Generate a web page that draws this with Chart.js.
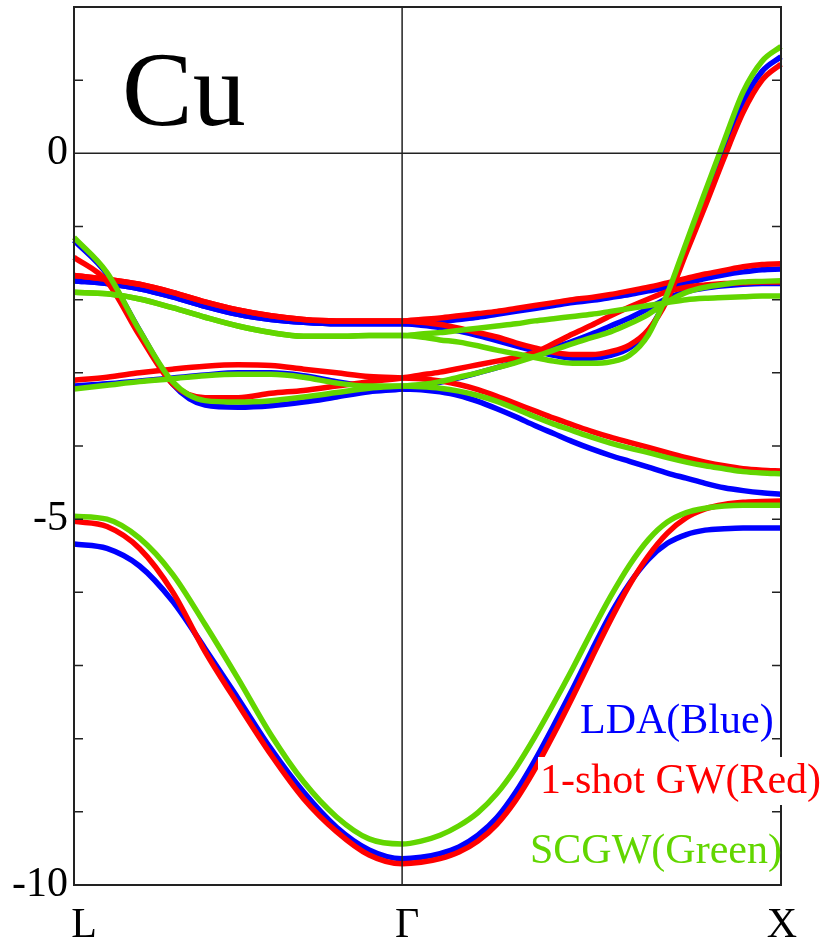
<!DOCTYPE html>
<html lang="en">
<head>
  <meta charset="UTF-8" />
  <title>Cu band structure</title>
  <script src="https://cdn.jsdelivr.net/npm/chart.js"></script>
  <style>
    html, body { margin: 0; padding: 0; background: #fff; }
    canvas { display: block; }
  </style>
</head>
<body>
  <canvas id="bands" width="827" height="944"></canvas>

  <script>
    // k along L -> Γ -> X  (|LΓ| = √3/2, |ΓX| = 1, units of 2π/a)
    const kPath = [
      0, 0.087, 0.173, 0.260, 0.346, 0.433, 0.520, 0.606, 0.693, 0.779, 0.866,
      0.916, 0.966, 1.016, 1.066, 1.116, 1.166, 1.216, 1.266, 1.316, 1.366,
      1.416, 1.466, 1.516, 1.566, 1.616, 1.666, 1.716, 1.766, 1.816, 1.866
    ];
    const symPoints = [0, 0.866, 1.866];
    const symLabels = ["L", "Γ", "X"];
    const energyTicks = [0, -5, -10];

    // LDA bands (eV, E_F = 0)
    const lda1 = [-5.34, -5.40, -5.64, -6.12, -6.77, -7.45, -8.14, -8.73, -9.21, -9.52, -9.64,
      -9.62, -9.57, -9.48, -9.32, -9.08, -8.73, -8.30, -7.82, -7.32, -6.80, -6.30, -5.88, -5.55, -5.33, -5.21, -5.15, -5.13, -5.12, -5.12, -5.12];
    const lda2 = [-3.18, -3.15, -3.11, -3.07, -3.03, -3.00, -3.00, -3.04, -3.12, -3.19, -3.22,
      -3.23, -3.26, -3.31, -3.39, -3.49, -3.60, -3.72, -3.83, -3.94, -4.04, -4.13, -4.21, -4.29, -4.37, -4.44, -4.51, -4.57, -4.61, -4.64, -4.66];
    const lda3 = [-1.19, -1.65, -2.42, -3.15, -3.44, -3.47, -3.45, -3.40, -3.33, -3.26, -3.22,
      -3.18, -3.13, -3.07, -3.00, -2.93, -2.85, -2.76, -2.66, -2.57, -2.47, -2.36, -2.25, -2.12, -1.98, -1.89, -1.84, -1.81, -1.79, -1.78, -1.78];
    const lda4 = [-1.74, -1.78, -1.85, -1.96, -2.09, -2.20, -2.27, -2.31, -2.33, -2.33, -2.33,
      -2.32, -2.30, -2.27, -2.24, -2.20, -2.16, -2.12, -2.08, -2.04, -2.01, -1.97, -1.93, -1.88, -1.83, -1.77, -1.71, -1.66, -1.62, -1.59, -1.58];
    const lda5 = [-1.74, -1.78, -1.85, -1.96, -2.09, -2.20, -2.27, -2.31, -2.33, -2.33, -2.33,
      -2.35, -2.38, -2.43, -2.49, -2.56, -2.63, -2.70, -2.76, -2.80, -2.80, -2.76, -2.66, -2.43, -1.95, -1.28, -0.62, 0.05, 0.70, 1.12, 1.32];

    // one-shot GW bands
    const gw1 = [-5.03, -5.10, -5.40, -5.99, -6.81, -7.53, -8.22, -8.82, -9.27, -9.59, -9.71,
      -9.69, -9.64, -9.55, -9.40, -9.17, -8.84, -8.42, -7.94, -7.43, -6.90, -6.38, -5.90, -5.50, -5.19, -4.98, -4.86, -4.80, -4.77, -4.76, -4.75];
    const gw2 = [-3.10, -3.06, -3.00, -2.95, -2.91, -2.89, -2.90, -2.95, -3.00, -3.05, -3.07,
      -3.08, -3.11, -3.16, -3.23, -3.32, -3.42, -3.52, -3.62, -3.71, -3.80, -3.88, -3.95, -4.02, -4.09, -4.16, -4.22, -4.27, -4.31, -4.33, -4.34];
    const gw3 = [-1.42, -1.75, -2.49, -3.15, -3.34, -3.34, -3.28, -3.24, -3.18, -3.12, -3.07,
      -3.03, -2.99, -2.94, -2.89, -2.84, -2.79, -2.72, -2.60, -2.47, -2.35, -2.22, -2.10, -1.99, -1.89, -1.83, -1.80, -1.78, -1.77, -1.76, -1.76];
    const gw4 = [-1.67, -1.72, -1.79, -1.90, -2.03, -2.14, -2.22, -2.27, -2.29, -2.29, -2.29,
      -2.27, -2.25, -2.22, -2.19, -2.16, -2.12, -2.08, -2.04, -2.00, -1.97, -1.93, -1.88, -1.83, -1.77, -1.71, -1.65, -1.60, -1.55, -1.52, -1.51];
    const gw5 = [-1.67, -1.72, -1.79, -1.90, -2.03, -2.14, -2.22, -2.27, -2.29, -2.29, -2.29,
      -2.31, -2.34, -2.39, -2.45, -2.51, -2.59, -2.66, -2.72, -2.75, -2.75, -2.71, -2.62, -2.41, -2.00, -1.36, -0.72, -0.06, 0.56, 1.00, 1.22];

    // self-consistent GW bands
    const scgw1 = [-4.96, -5.00, -5.26, -5.75, -6.44, -7.18, -7.95, -8.59, -9.07, -9.37, -9.44,
      -9.40, -9.32, -9.19, -9.01, -8.75, -8.40, -7.98, -7.52, -7.04, -6.54, -6.06, -5.63, -5.28, -5.04, -4.91, -4.85, -4.82, -4.81, -4.81, -4.81];
    const scgw2 = [-3.22, -3.17, -3.12, -3.08, -3.04, -3.02, -3.02, -3.06, -3.14, -3.18, -3.18,
      -3.19, -3.21, -3.25, -3.31, -3.39, -3.49, -3.60, -3.70, -3.79, -3.88, -3.96, -4.03, -4.09, -4.16, -4.22, -4.27, -4.31, -4.35, -4.37, -4.38];
    const scgw3 = [-1.15, -1.63, -2.42, -3.12, -3.38, -3.40, -3.38, -3.33, -3.27, -3.21, -3.18,
      -3.16, -3.12, -3.06, -3.00, -2.93, -2.86, -2.78, -2.69, -2.60, -2.52, -2.44, -2.33, -2.20, -2.03, -1.90, -1.83, -1.79, -1.76, -1.75, -1.74];
    const scgw4 = [-1.90, -1.92, -1.99, -2.11, -2.24, -2.36, -2.45, -2.50, -2.50, -2.49, -2.49,
      -2.47, -2.45, -2.42, -2.39, -2.36, -2.33, -2.29, -2.26, -2.23, -2.20, -2.16, -2.12, -2.08, -2.04, -2.00, -1.98, -1.97, -1.96, -1.95, -1.95];
    const scgw5 = [-1.90, -1.92, -1.99, -2.11, -2.24, -2.36, -2.45, -2.50, -2.50, -2.49, -2.49,
      -2.51, -2.55, -2.58, -2.63, -2.69, -2.74, -2.79, -2.84, -2.87, -2.87, -2.85, -2.76, -2.48, -1.92, -1.22, -0.52, 0.17, 0.84, 1.26, 1.46];

    const BLUE = "#0000ff";
    const RED = "#ff0000";
    const GREEN = "#62d600";
    const serif = '"Liberation Serif", "Times New Roman", serif';

    // first dataset ends up on top, so green goes first, blue last
    const methods = [
      { bands: [scgw1, scgw2, scgw3, scgw4, scgw5], color: GREEN },
      { bands: [gw1, gw2, gw3, gw4, gw5], color: RED },
      { bands: [lda1, lda2, lda3, lda4, lda5], color: BLUE }
    ];

    const datasets = [];
    methods.forEach(m => {
      m.bands.forEach(band => {
        datasets.push({
          data: band.map((e, i) => ({ x: kPath[i], y: e })),
          borderColor: m.color,
          backgroundColor: m.color,
          clip: 4
        });
      });
    });

    // frame, Fermi level, Γ line, inner ticks and axis labels
    const framePlugin = {
      id: "frame",
      afterDatasetsDraw(chart) {
        const { ctx, chartArea: a, scales: { x, y } } = chart;
        ctx.save();
        ctx.strokeStyle = "#222";
        ctx.lineWidth = 1.5;

        const y0 = y.getPixelForValue(0);
        ctx.beginPath();
        ctx.moveTo(a.left, y0); ctx.lineTo(a.right, y0);
        const xg = x.getPixelForValue(symPoints[1]);
        ctx.moveTo(xg, a.top); ctx.lineTo(xg, a.bottom);
        for (let e = -9; e <= 1; e++) {
          if (e === 0) continue;
          const py = y.getPixelForValue(e);
          ctx.moveTo(a.left, py); ctx.lineTo(a.left + 9, py);
          ctx.moveTo(a.right - 9, py); ctx.lineTo(a.right, py);
        }
        ctx.stroke();

        ctx.lineWidth = 2;
        ctx.strokeRect(a.left, a.top, a.right - a.left, a.bottom - a.top);

        ctx.fillStyle = "#000";
        ctx.font = "42px " + serif;
        ctx.textAlign = "right";
        ctx.textBaseline = "middle";
        energyTicks.forEach(v => ctx.fillText(String(v), a.left - 6, y.getPixelForValue(v)));

        ctx.textAlign = "center";
        ctx.textBaseline = "alphabetic";
        const nudge = [10, 5, 1];
        symPoints.forEach((k, i) => ctx.fillText(symLabels[i], x.getPixelForValue(k) + nudge[i], 937));
        ctx.restore();
      },
      afterDraw(chart) {
        const { ctx } = chart;
        ctx.save();
        ctx.textAlign = "left";
        ctx.textBaseline = "alphabetic";
        ctx.fillStyle = "#000";
        ctx.font = "106px " + serif;
        ctx.fillText("Cu", 122, 125);

        ctx.font = "42px " + serif;
        ctx.fillStyle = BLUE;
        ctx.fillText("LDA(Blue)", 580, 733);

        ctx.fillStyle = "#fff";
        ctx.fillRect(538, 757, 284, 48);
        ctx.fillStyle = RED;
        ctx.fillText("1-shot GW(Red)", 540, 793);

        ctx.fillStyle = GREEN;
        ctx.fillText("SCGW(Green)", 530, 863);
        ctx.restore();
      }
    };

    new Chart(document.getElementById("bands"), {
      type: "line",
      data: { datasets },
      options: {
        responsive: false,
        animation: false,
        devicePixelRatio: 1,
        layout: { padding: { left: 74, top: 7, right: 46, bottom: 59 } },
        plugins: { legend: { display: false }, tooltip: { enabled: false } },
        elements: {
          point: { radius: 0, hoverRadius: 0 },
          line: { borderWidth: 5.5, cubicInterpolationMode: "monotone" }
        },
        scales: {
          x: { type: "linear", min: 0, max: 1.866, display: false },
          y: { type: "linear", min: -10, max: 2, display: false }
        }
      },
      plugins: [framePlugin]
    });
  </script>
</body>
</html>
